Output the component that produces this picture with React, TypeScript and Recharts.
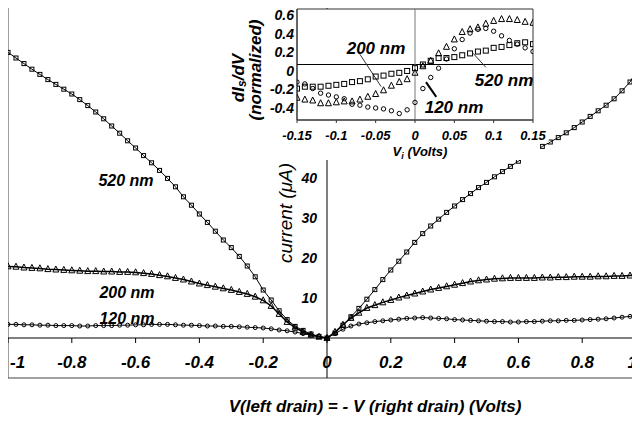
import React from "react";
import { LineChart, Line, XAxis, YAxis, ReferenceLine, ReferenceArea } from "recharts";

const FONT = '"Liberation Sans", Arial, sans-serif';

// main plot: drain voltage (V) vs current (uA)
const V_MAIN = [
  -1, -0.975, -0.95, -0.925, -0.9, -0.875, -0.85, -0.825, -0.8, -0.775,
  -0.75, -0.725, -0.7, -0.675, -0.65, -0.625, -0.6, -0.575, -0.55, -0.525,
  -0.5, -0.475, -0.45, -0.425, -0.4, -0.375, -0.35, -0.325, -0.3, -0.275,
  -0.25, -0.225, -0.2, -0.175, -0.15, -0.125, -0.1, -0.075, -0.05, -0.025,
  0,
  0.025, 0.05, 0.075, 0.1, 0.125, 0.15, 0.175, 0.2, 0.225, 0.25,
  0.275, 0.3, 0.325, 0.35, 0.375, 0.4, 0.425, 0.45, 0.475, 0.5,
  0.525, 0.55, 0.575, 0.6, 0.625, 0.65, 0.675, 0.7, 0.725, 0.75,
  0.775, 0.8, 0.825, 0.85, 0.875, 0.9, 0.925, 0.95, 0.975, 1,
];

const I_520 = [
  71.4, 70.0, 68.6, 67.2, 65.9, 64.6, 63.4, 62.2, 61.0, 59.6,
  58.1, 56.5, 54.8, 53.0, 51.2, 49.3, 47.5, 45.6, 43.8, 41.9,
  39.9, 37.8, 35.3, 33.2, 31.0, 28.9, 26.7, 24.5, 22.6, 20.4,
  18.0, 15.3, 12.0, 9.5, 6.8, 4.6, 2.9, 1.9, 1.0, 0.4,
  0.0,
  1.2, 3.2, 5.3, 7.4, 9.7, 12.1, 14.6, 17.0, 19.2, 21.5,
  23.9, 26.1, 28.0, 29.7, 31.4, 33.0, 34.6, 36.1, 37.6, 38.9,
  40.3, 41.6, 42.9, 44.2, 45.5, 46.7, 47.9, 49.0, 50.1, 51.3,
  52.6, 54.0, 55.4, 56.8, 58.2, 59.8, 61.8, 64.0, 67.5, 71.0,
];

const I_200 = [
  17.9, 17.8, 17.6, 17.5, 17.4, 17.2, 17.1, 17.0, 16.9, 16.8,
  16.7, 16.7, 16.6, 16.6, 16.5, 16.5, 16.4, 16.2, 16.0, 15.7,
  15.4, 15.0, 14.6, 14.1, 13.6, 13.2, 12.8, 12.4, 12.0, 11.5,
  11.0, 10.3, 9.4, 8.0, 6.0, 4.0, 2.6, 1.5, 0.8, 0.3,
  0.0,
  1.5, 3.3, 5.0, 6.3, 7.5, 8.2, 8.9, 9.5, 10.1, 10.6,
  11.1, 11.6, 12.1, 12.5, 12.9, 13.3, 13.7, 14.1, 14.4, 14.6,
  14.8, 14.9, 15.0, 15.0, 15.0, 15.0, 15.1, 15.1, 15.2, 15.2,
  15.3, 15.3, 15.3, 15.4, 15.4, 15.5, 15.5, 15.6, 15.7, 15.9,
];

const I_120 = [
  3.4, 3.4, 3.3, 3.3, 3.2, 3.2, 3.1, 3.1, 3.1, 3.0,
  3.0, 3.1, 3.1, 3.1, 3.2, 3.2, 3.3, 3.3, 3.4, 3.4,
  3.4, 3.3, 3.2, 3.2, 3.1, 3.0, 3.0, 2.9, 2.9, 2.8,
  2.7, 2.6, 2.5, 2.3, 2.0, 1.8, 1.5, 1.1, 0.7, 0.3,
  0.0,
  1.1, 2.2, 3.0, 3.5, 3.8, 4.1, 4.3, 4.5, 4.7, 4.9,
  5.0, 5.1, 5.0, 4.9, 4.8, 4.6, 4.5, 4.4, 4.3, 4.2,
  4.1, 4.1, 4.0, 4.0, 4.1, 4.1, 4.2, 4.3, 4.3, 4.4,
  4.4, 4.5, 4.6, 4.7, 4.8, 5.0, 5.2, 5.4, 5.6, 5.8,
];

const X_TICKS = [-1, -0.8, -0.6, -0.4, -0.2, 0, 0.2, 0.4, 0.6, 0.8, 1];
const Y_TICKS = [10, 20, 30, 40];

// inset: normalized dIs/dV vs Vi
const V_INSET = [
  -0.15, -0.14, -0.13, -0.12, -0.11, -0.1, -0.09, -0.08, -0.07, -0.06,
  -0.05, -0.04, -0.03, -0.02, -0.01, 0, 0.01, 0.02, 0.03, 0.04,
  0.05, 0.06, 0.07, 0.08, 0.09, 0.1, 0.11, 0.12, 0.13, 0.14, 0.15,
];
const D_520 = [
  -0.26, -0.24, -0.24, -0.24, -0.23, -0.22, -0.21, -0.19, -0.18, -0.16,
  -0.13, -0.12, -0.1, -0.09, -0.07, -0.04, 0.0, 0.04, 0.07, 0.07,
  0.08, 0.1, 0.12, 0.14, 0.15, 0.18, 0.19, 0.21, 0.23, 0.24, 0.22,
];
const D_200 = [
  -0.36, -0.38, -0.39, -0.42, -0.42, -0.41, -0.4, -0.4, -0.38, -0.35,
  -0.32, -0.28, -0.23, -0.19, -0.16, -0.09, -0.02, 0.04, 0.12, 0.19,
  0.27, 0.35, 0.38, 0.4, 0.44, 0.47, 0.49, 0.49, 0.48, 0.46, 0.45,
];
const D_120 = [
  -0.19, -0.21, -0.26, -0.31, -0.33, -0.35, -0.37, -0.43, -0.44, -0.46,
  -0.47, -0.48, -0.5, -0.53, -0.49, -0.41, -0.26, -0.14, -0.04, 0.06,
  0.17, 0.27, 0.34, 0.38, 0.39, 0.36, 0.31, 0.26, 0.22, 0.18, 0.14,
];
const IN_X_TICKS = [-0.15, -0.1, -0.05, 0, 0.05, 0.1, 0.15];
const IN_Y_TICKS = [-0.4, -0.2, 0, 0.2, 0.4, 0.6];

const mainData = V_MAIN.map((v, i) => ({ v, s520: I_520[i], s200: I_200[i], s120: I_120[i] }));
const insetData = V_INSET.map((v, i) => ({ v, s520: D_520[i], s200: D_200[i], s120: D_120[i] }));

// layout
const W = 640;
const H = 415;
const X_H = 44;
const RIGHT = 2;
const PLOT_W = W - RIGHT;
const PLOT_H = H - X_H;
const Y_MIN = -10;
const Y_MAX = 82.75;
const Y0 = (PLOT_H * Y_MAX) / (Y_MAX - Y_MIN);
const X0 = PLOT_W / 2;

const IN_W = 335;
const IN_H = 153;
const IN_LEFT = 72;
const IN_XH = 40;
const IN_BOTTOM = IN_H - IN_XH;

const bold = { fontFamily: FONT, fontWeight: 700, fontStyle: "italic" as const, fill: "#000" };

const square = (s: number) => (p: any) =>
  p.cx == null ? null : (
    <rect key={`q${p.index}`} x={p.cx - s / 2} y={p.cy - s / 2} width={s} height={s} fill="none" stroke="#000" strokeWidth={1} />
  );
const triangle = (s: number) => (p: any) =>
  p.cx == null ? null : (
    <path
      key={`t${p.index}`}
      d={`M${p.cx},${p.cy - s * 0.6}L${p.cx + s / 2},${p.cy + s * 0.4}L${p.cx - s / 2},${p.cy + s * 0.4}Z`}
      fill="none"
      stroke="#000"
      strokeWidth={1}
    />
  );
const circle = (r: number) => (p: any) =>
  p.cx == null ? null : <circle key={`c${p.index}`} cx={p.cx} cy={p.cy} r={r} fill="none" stroke="#000" strokeWidth={1} />;

const MainXTick = (props: any) => {
  const { x, payload } = props;
  const v = payload.value;
  let anchor = "middle";
  let tx = x;
  if (v === -1) {
    anchor = "start";
    tx = x + 2;
  }
  if (v === 1) {
    anchor = "end";
    tx = x - 9;
  }
  return (
    <g>
      <line x1={x} x2={x} y1={Y0} y2={Y0 + 5} stroke="#000" />
      <text x={tx} y={Y0 + 30} textAnchor={anchor} fontSize={17} {...bold}>
        {String(v)}
      </text>
    </g>
  );
};

const MainYTick = (props: any) => {
  const { y, payload } = props;
  return (
    <text x={X0 - 10} y={y} textAnchor="end" dominantBaseline="central" fontSize={14} {...bold}>
      {payload.value}
    </text>
  );
};

const MainXTitle = () => (
  <text x={367} y={405} textAnchor="middle" fontSize={17} {...bold}>
    V(left drain) = - V (right drain) (Volts)
  </text>
);

const MainYTitle = () => (
  <text
    x={277}
    y={206}
    transform="rotate(-90 277 206)"
    textAnchor="middle"
    dominantBaseline="central"
    fontSize={19}
    fontFamily={FONT}
    fontStyle="italic"
    fill="#000"
  >
    current (μA)
  </text>
);

const InXTick = (props: any) => {
  const { x, payload } = props;
  const label = String(payload.value);
  const w = label.length * 7.4 + 2;
  return (
    <g>
      <line x1={x} x2={x} y1={IN_BOTTOM} y2={IN_BOTTOM + 3} stroke="#333" />
      <rect x={x - w / 2} y={IN_BOTTOM + 8} width={w} height={15} fill="#fff" />
      <text x={x} y={IN_BOTTOM + 20} textAnchor="middle" fontSize={13} {...bold}>
        {label}
      </text>
    </g>
  );
};

const InYTick = (props: any) => {
  const { y, payload } = props;
  return (
    <text x={IN_LEFT - 3} y={y + 6} textAnchor="end" dominantBaseline="central" fontSize={14} {...bold}>
      {String(payload.value)}
    </text>
  );
};

const InXTitle = () => (
  <text x={195} y={149} textAnchor="middle" fontSize={13} {...bold}>
    V<tspan dy={3} fontSize={9}>i</tspan>
    <tspan dy={-3}> (Volts)</tspan>
  </text>
);

const InYTitle = () => (
  <g>
    <text x={13} y={71} transform="rotate(-90 13 71)" textAnchor="middle" dominantBaseline="central" fontSize={17} {...bold}>
      dI<tspan dy={4} fontSize={12}>s</tspan>
      <tspan dy={-4}>/dV</tspan>
    </text>
    <text x={30} y={63} transform="rotate(-90 30 63)" textAnchor="middle" dominantBaseline="central" fontSize={17} {...bold}>
      (normalized)
    </text>
  </g>
);

const tag = (text: string, cx: number, cy: number, size: number) => (
  <span
    key={text + cx}
    style={{
      position: "absolute",
      left: cx,
      top: cy,
      transform: "translate(-50%, -50%)",
      fontFamily: FONT,
      fontWeight: 700,
      fontStyle: "italic",
      fontSize: size,
      lineHeight: 1,
      whiteSpace: "nowrap",
      color: "#000",
    }}
  >
    {text}
  </span>
);

export default function App() {
  return (
    <div style={{ position: "relative", width: 632, height: H, marginTop: -1, overflow: "hidden", background: "#fff" }}>
      <LineChart width={W} height={H} data={mainData} margin={{ top: 0, right: RIGHT, left: -1, bottom: 0 }}>
        <XAxis
          dataKey="v"
          type="number"
          domain={[-1, 1]}
          ticks={X_TICKS}
          allowDataOverflow
          interval={0}
          axisLine={false}
          tickLine={false}
          height={X_H}
          tick={<MainXTick />}
          label={<MainXTitle />}
        />
        <YAxis
          type="number"
          domain={[Y_MIN, Y_MAX]}
          ticks={Y_TICKS}
          allowDataOverflow
          interval={0}
          width={1}
          axisLine={false}
          tickLine={false}
          tick={<MainYTick />}
          label={<MainYTitle />}
        />
        <ReferenceArea x1={-1} x2={1} y1={Y_MIN} y2={Y_MAX} fill="none" stroke="#444" />
        <ReferenceLine y={0} stroke="#000" />
        <ReferenceLine x={0} stroke="#000" />
        <Line dataKey="s120" type="linear" stroke="#000" strokeWidth={1} dot={circle(2)} activeDot={false} isAnimationActive={false} />
        <Line dataKey="s200" type="linear" stroke="#000" strokeWidth={1.5} dot={triangle(6)} activeDot={false} isAnimationActive={false} />
        <Line dataKey="s520" type="linear" stroke="#000" strokeWidth={1} dot={square(4)} activeDot={false} isAnimationActive={false} />
      </LineChart>

      <div style={{ position: "absolute", left: 217, top: 2, width: 315, height: 151, background: "#fff" }} />
      <div style={{ position: "absolute", left: 217, top: 0, width: IN_W, height: IN_H }}>
        <LineChart width={IN_W} height={IN_H} data={insetData} margin={{ top: 2, right: 27, left: 0, bottom: 0 }}>
          <XAxis
            dataKey="v"
            type="number"
            domain={[-0.15, 0.15]}
            ticks={IN_X_TICKS}
            allowDataOverflow
            interval={0}
            axisLine={{ stroke: "#333" }}
            tickLine={false}
            height={IN_XH}
            tick={<InXTick />}
            label={<InXTitle />}
          />
          <YAxis
            type="number"
            domain={[-0.6, 0.6]}
            ticks={IN_Y_TICKS}
            allowDataOverflow
            interval={0}
            width={IN_LEFT}
            axisLine={{ stroke: "#333" }}
            tickLine={false}
            tick={<InYTick />}
            label={<InYTitle />}
          />
          <ReferenceArea x1={-0.15} x2={0.15} y1={-0.6} y2={0.6} fill="none" stroke="#333" />
          <ReferenceLine y={0} stroke="#000" />
          <ReferenceLine x={0} stroke="#777" />
          <ReferenceLine segment={[{ x: -0.07, y: 0.11 }, { x: -0.043, y: -0.24 }]} stroke="#333" ifOverflow="visible" />
          <ReferenceLine segment={[{ x: 0.074, y: 0.12 }, { x: 0.09, y: -0.03 }]} stroke="#333" ifOverflow="visible" />
          <ReferenceLine segment={[{ x: 0.014, y: -0.19 }, { x: 0.027, y: -0.35 }]} stroke="#000" strokeWidth={2} ifOverflow="visible" />
          <Line dataKey="s520" stroke="none" dot={square(5)} activeDot={false} isAnimationActive={false} />
          <Line dataKey="s200" stroke="none" dot={triangle(6)} activeDot={false} isAnimationActive={false} />
          <Line dataKey="s120" stroke="none" dot={circle(2.2)} activeDot={false} isAnimationActive={false} />
        </LineChart>
      </div>

      {tag("520 nm", 118, 174, 16)}
      {tag("200 nm", 119, 286, 16)}
      {tag("120 nm", 119, 312, 16)}
      {tag("200 nm", 368, 41, 17)}
      {tag("520 nm", 496, 73, 17)}
      {tag("120 nm", 446, 100, 17)}
    </div>
  );
}
